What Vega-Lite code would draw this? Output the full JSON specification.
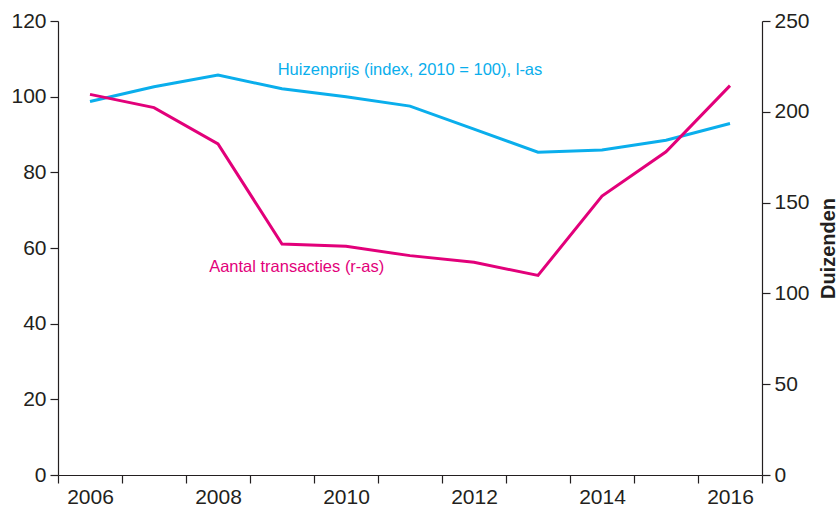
{
  "$schema": "https://vega.github.io/schema/vega-lite/v6.json",
  "width": 704,
  "height": 454,
  "autosize": {"type": "none"},
  "padding": {"left": 58, "top": 21, "right": 76, "bottom": 31},
  "background": "white",
  "config": {
    "view": {"stroke": null},
    "font": "Liberation Sans",
    "axis": {
      "grid": false,
      "domainColor": "#231F20",
      "tickColor": "#231F20",
      "labelColor": "#231F20",
      "titleColor": "#231F20",
      "labelFont": "Liberation Sans",
      "titleFont": "Liberation Sans",
      "labelFontSize": 21,
      "tickSize": 8,
      "domainWidth": 1.2,
      "tickWidth": 1.2
    }
  },
  "data": {
    "values": [
      {"year": 2006, "huizenprijs": 98.7, "transacties": 209.6},
      {"year": 2007, "huizenprijs": 102.6, "transacties": 202.3},
      {"year": 2008, "huizenprijs": 105.7, "transacties": 182.3},
      {"year": 2009, "huizenprijs": 102.1, "transacties": 127.2},
      {"year": 2010, "huizenprijs": 100.0, "transacties": 125.9},
      {"year": 2011, "huizenprijs": 97.5, "transacties": 120.8},
      {"year": 2012, "huizenprijs": 91.4, "transacties": 117.1},
      {"year": 2013, "huizenprijs": 85.3, "transacties": 109.9},
      {"year": 2014, "huizenprijs": 85.9, "transacties": 153.6},
      {"year": 2015, "huizenprijs": 88.5, "transacties": 178.0},
      {"year": 2016, "huizenprijs": 92.9, "transacties": 214.4}
    ]
  },
  "encoding": {
    "x": {
      "field": "year",
      "type": "quantitative",
      "scale": {"domain": [2005.5, 2016.5], "nice": false, "zero": false},
      "axis": {
        "title": null,
        "values": [2005.5, 2006, 2006.5, 2007, 2007.5, 2008, 2008.5, 2009, 2009.5, 2010, 2010.5, 2011, 2011.5, 2012, 2012.5, 2013, 2013.5, 2014, 2014.5, 2015, 2015.5, 2016, 2016.5],
        "labelExpr": "datum.value % 2 == 0 ? format(datum.value, 'd') : ''",
        "tickOpacity": {"condition": {"test": "datum.value % 1 != 0", "value": 1}, "value": 0},
        "labelFlush": false,
        "labelOverlap": false,
        "labelBound": false,
        "labelPadding": 3
      }
    }
  },
  "layer": [
    {
      "layer": [
        {
          "mark": {"type": "line", "color": "#0AAEEC", "strokeWidth": 3},
          "encoding": {
            "y": {
              "field": "huizenprijs",
              "type": "quantitative",
              "scale": {"domain": [0, 120], "nice": false},
              "axis": {
                "title": null,
                "orient": "left",
                "values": [0, 20, 40, 60, 80, 100, 120],
                "labelPadding": 4
              }
            }
          }
        },
        {
          "data": {"values": [{"x": 2011.0, "y": 105.7, "label": "Huizenprijs (index, 2010 = 100), l-as"}]},
          "mark": {"type": "text", "color": "#0AAEEC", "fontSize": 16.5, "font": "Liberation Sans", "align": "center", "baseline": "alphabetic"},
          "encoding": {
            "x": {"field": "x", "type": "quantitative"},
            "y": {"field": "y", "type": "quantitative"},
            "text": {"field": "label"}
          }
        },
        {
          "data": {"values": [{"x": 2009.23, "y": 53.7, "label": "Aantal transacties (r-as)"}]},
          "mark": {"type": "text", "color": "#E2007A", "fontSize": 16.5, "font": "Liberation Sans", "align": "center", "baseline": "alphabetic"},
          "encoding": {
            "x": {"field": "x", "type": "quantitative"},
            "y": {"field": "y", "type": "quantitative"},
            "text": {"field": "label"}
          }
        }
      ]
    },
    {
      "mark": {"type": "line", "color": "#E2007A", "strokeWidth": 3},
      "encoding": {
        "y": {
          "field": "transacties",
          "type": "quantitative",
          "scale": {"domain": [0, 250], "nice": false},
          "axis": {
            "title": "Duizenden",
            "orient": "right",
            "values": [0, 50, 100, 150, 200, 250],
            "labelPadding": 4,
            "titleAngle": 270,
            "titleFontSize": 20,
            "titleFontWeight": "bold",
            "titleBaseline": "alphabetic",
            "titlePadding": 25
          }
        }
      }
    }
  ],
  "resolve": {"scale": {"y": "independent"}}
}
